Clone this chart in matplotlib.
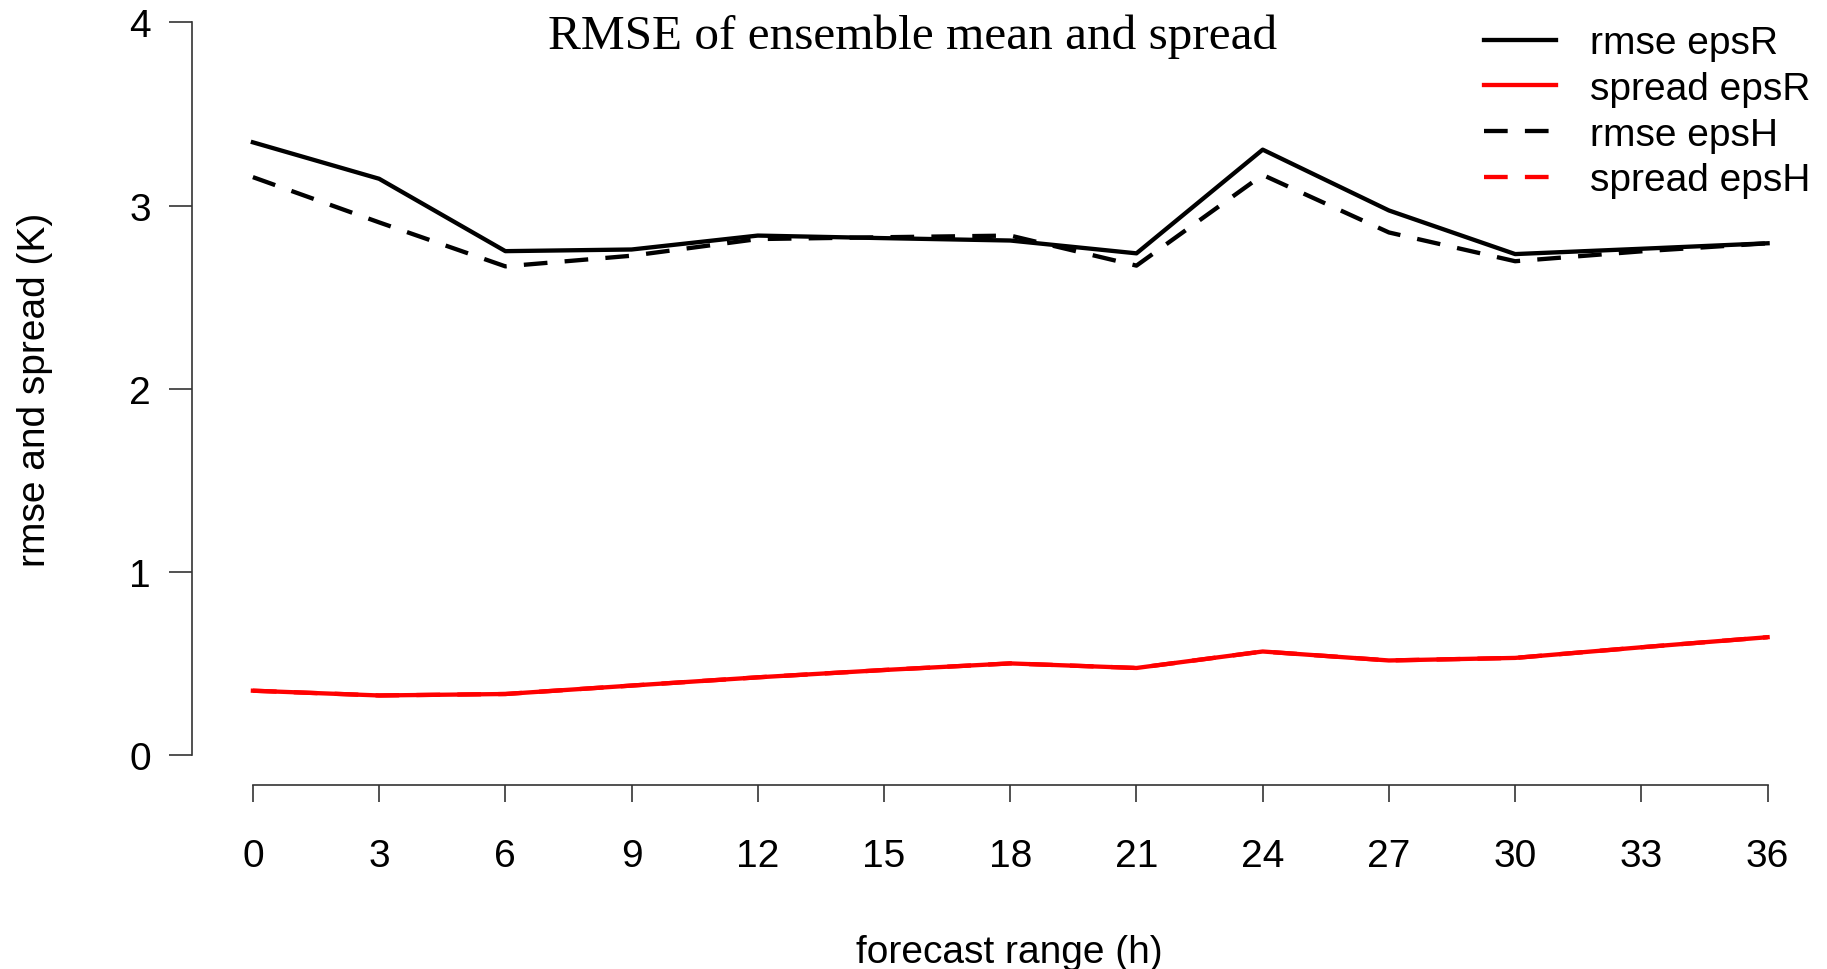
import matplotlib
matplotlib.use("Agg")
import matplotlib.pyplot as plt

# forecast lead times (h)
lead = [0, 3, 6, 9, 12, 15, 18, 21, 24, 27, 30, 33, 36]

rmse_epsR = [3.345, 3.146, 2.751, 2.760, 2.836, 2.822, 2.809, 2.739, 3.305, 2.973, 2.735, 2.764, 2.794]
spread_epsR = [0.352, 0.326, 0.334, 0.380, 0.425, 0.465, 0.501, 0.476, 0.566, 0.517, 0.531, 0.589, 0.644]
rmse_epsH = [3.155, 2.908, 2.668, 2.726, 2.817, 2.827, 2.836, 2.672, 3.167, 2.853, 2.696, 2.750, 2.794]
spread_epsH = [0.352, 0.326, 0.334, 0.380, 0.425, 0.465, 0.501, 0.476, 0.566, 0.517, 0.531, 0.589, 0.644]

xticks = list(range(0, 37, 3))
yticks = [0, 1, 2, 3, 4]

SANS = ["Liberation Sans", "DejaVu Sans"]
SERIF = ["Liberation Serif", "DejaVu Serif"]
FS = 28

W, H = 1827, 970
fig = plt.figure(figsize=(W / 100, H / 100), dpi=100)

# axes placed in pixels so that the R-style detached axes land where they should
ax_left, ax_right, ax_bottom, ax_top = 192, 1800, 786, 0
ax = fig.add_axes([ax_left / W, 1 - ax_bottom / H,
                   (ax_right - ax_left) / W, (ax_bottom - ax_top) / H])

px_x = (1767.6 - 252.9) / 36
px_y = (756.2 - 23.3) / 4
ax.set_xlim(-(252.9 - ax_left) / px_x, (ax_right - 252.9) / px_x)
ax.set_ylim(-(ax_bottom - 756.2) / px_y, 4 + (23.3 - ax_top) / px_y)

LW = 3.1
dash = (5.5, 4)
ax.plot(lead, rmse_epsR, color="black", lw=LW, label="rmse epsR")
ax.plot(lead, spread_epsR, color="#ff0000", lw=LW, label="spread epsR")
ax.plot(lead, rmse_epsH, color="black", lw=LW, dashes=dash, label="rmse epsH")
ax.plot(lead, spread_epsH, color="#ff0000", lw=LW, dashes=dash, label="spread epsH")

for s in ["top", "right"]:
    ax.spines[s].set_visible(False)
ax.spines["left"].set_bounds(0, 4)
ax.spines["bottom"].set_bounds(0, 36)
for s in ["left", "bottom"]:
    ax.spines[s].set_color("#333333")
    ax.spines[s].set_linewidth(1.2)

ax.set_xticks(xticks)
ax.set_yticks(yticks)
ax.tick_params(axis="y", length=16.5, width=1.2, color="#333333", pad=13)
ax.tick_params(axis="x", length=12.5, width=1.2, color="#333333", pad=26)
for lab in ax.get_xticklabels() + ax.get_yticklabels():
    lab.set_fontsize(FS)
    lab.set_family(SANS)

fig.text(35 / W, 1 - 390 / H, "rmse and spread (K)", rotation=90,
         ha="center", va="center", fontsize=FS, family=SANS)
fig.text(1009 / W, 1 - 953 / H, "forecast range (h)",
         ha="center", va="center", fontsize=FS, family=SANS)
fig.text(913 / W, 1 - 37 / H, "RMSE of ensemble mean and spread",
         ha="center", va="center", fontsize=35.5, family=SERIF)

leg = ax.legend(loc="upper right", bbox_to_anchor=(1838 / W, 1 + 1 / H),
                bbox_transform=fig.transFigure, frameon=False,
                prop={"family": SANS, "size": FS}, handlelength=1.85,
                handletextpad=0.88, labelspacing=0.25, borderpad=0.2)

fig.savefig("out.png", dpi=100)
